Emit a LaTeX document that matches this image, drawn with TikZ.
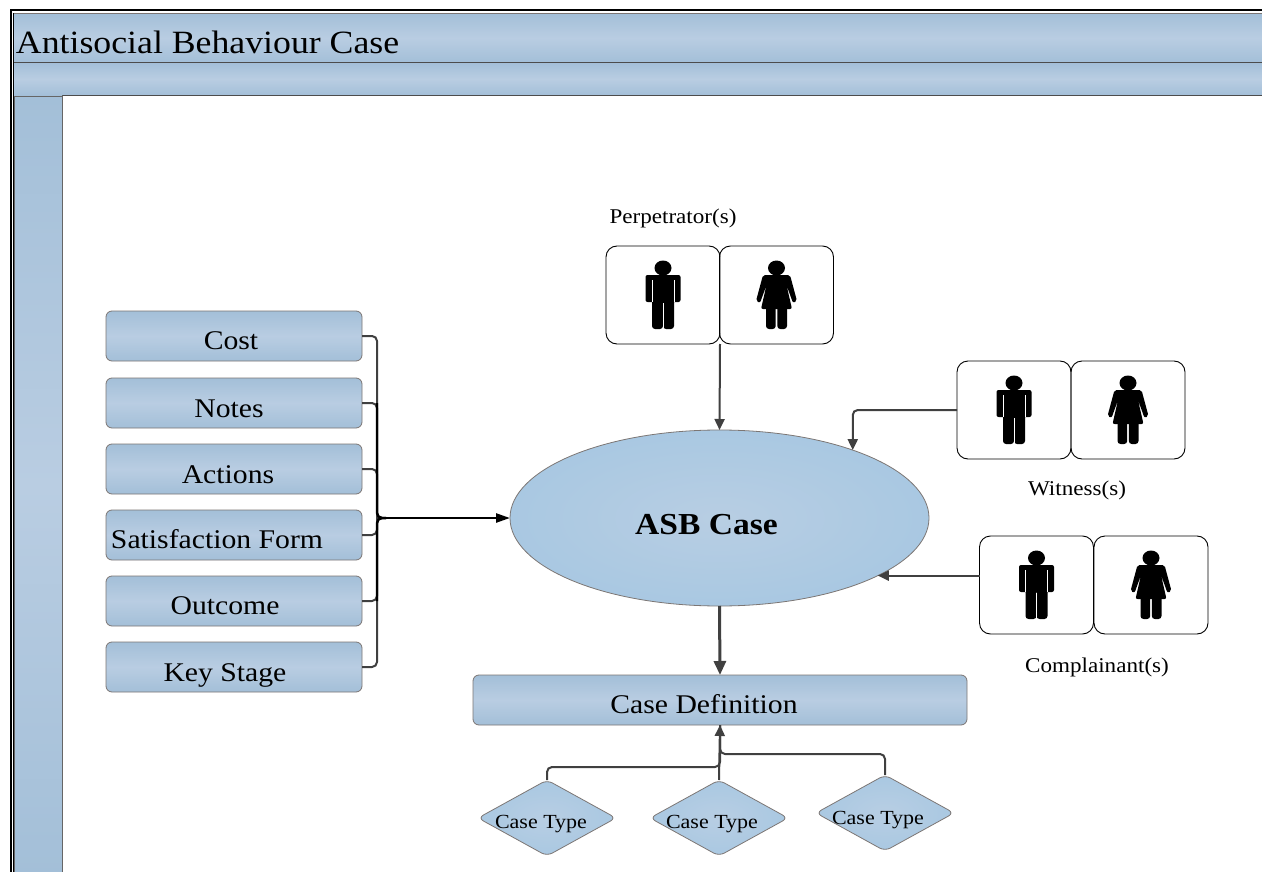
\documentclass[tikz,border=0pt]{standalone}
\usepackage{fontspec}
\setmainfont[FakeStretch = 1.1]{Liberation Serif}
\usetikzlibrary{
    arrows.meta,
    calc,
    shapes.geometric
}
\definecolor{bandDark}{HTML}{A3BFD8}
\definecolor{bandLight}{HTML}{B9CDE2}
\definecolor{blobDark}{HTML}{A9C8E2}
\definecolor{blobLight}{HTML}{B8CEE3}
\definecolor{edgeGrey}{HTML}{7C7674}
\definecolor{lineGrey}{HTML}{404040}
\tikzset{
    every picture/.style = {
        > = {Triangle[length = 11pt, width = 10pt]},
        x = 1pt,
        y = -1pt
    },
    every node/.style = {
        inner sep = 0pt,
        outer sep = 0pt,
        align = center
    },
    band/.style = {
        rectangle,
        draw = edgeGrey,
        line width = 0.8pt,
        top color = bandDark,
        bottom color = bandDark,
        middle color = bandLight
    },
    bluebox/.style = {
        band,
        rounded corners = 6pt,
        minimum width = 256pt,
        minimum height = 50pt
    },
    boxtext/.style = {
        font = \fontsize{27}{27}\selectfont
    },
    blob/.style = {
        draw = edgeGrey,
        line width = 0.8pt,
        inner color = blobLight,
        outer color = blobDark
    },
    casetype/.style = {
        diamond,
        blob,
        rounded corners = 6pt,
        minimum width = 138pt,
        minimum height = 76pt
    },
    smalltext/.style = {
        font = \fontsize{21}{21}\selectfont
    },
    typetext/.style = {
        font = \fontsize{20}{20}\selectfont
    },
    personbox/.style = {
        rectangle,
        draw = black,
        line width = 0.9pt,
        rounded corners = 11pt,
        minimum width = 114pt,
        minimum height = 98pt
    },
    link/.style = {
        draw = lineGrey,
        line width = 2pt,
        rounded corners = 5pt
    },
    busline/.style = {
        draw = black,
        line width = 2.4pt,
        rounded corners = 5pt
    },
    man/.pic = {
        \fill (0, -27) ellipse [x radius = 8.5, y radius = 7.5];
        \fill[rounded corners = 2pt] (-17.5, -20) rectangle (17.5, 7);
        \fill[rounded corners = 3pt] (-11, 0) rectangle (0, 34);
        \fill[rounded corners = 3pt] (0, 0) rectangle (11, 34);
        \draw[white, line width = 0.5pt] (-11, -15) -- (-11, 7);
        \draw[white, line width = 0.5pt] (11, -15) -- (11, 7);
        \draw[white, line width = 0.5pt] (0, 8) -- (0, 34);
    },
    woman/.pic = {
        \fill (0, -27) ellipse [x radius = 8.5, y radius = 7.5];
        \fill[rounded corners = 2pt] (-13.5, -20) -- (13.5, -20) -- (20.5, 6)
            -- (16.5, 8) -- (10, -10) -- (15.5, 14) -- (-15.5, 14)
            -- (-10, -10) -- (-16.5, 8) -- (-20.5, 6) -- cycle;
        \fill[rounded corners = 3pt] (-10.5, 10) rectangle (-0.8, 34);
        \fill[rounded corners = 3pt] (0.8, 10) rectangle (10.5, 34);
    }
}

\begin{document}
\begin{tikzpicture}
    \useasboundingbox (0, 0) rectangle (1262, 872);
    \fill[white] (0, 0) rectangle (1262, 872);

    % window frame
    \node[band, minimum width = 1250pt, minimum height = 49pt] (titlebar) at (638, 38) {};
    \node[band, minimum width = 1250pt, minimum height = 33pt, draw = black!70] (menubar) at (638, 79) {};
    \node[band, draw = black!60, minimum width = 48pt, minimum height = 780pt] (sidebar) at (38, 486) {};
    \node[anchor = base west, font = \fontsize{32.5}{33}\selectfont] (title) at (16, 54) {Antisocial Behaviour Case};
    \draw[black, line width = 2pt] (1262, 10) -- (11, 10) -- (11, 872);
    \draw[black, line width = 0.8pt] (13.5, 872) -- (13.5, 13);

    % left hand boxes
    \node[bluebox, label = {[boxtext, xshift = -3pt, yshift = -5pt]center:Cost}] (cost) at (234, 336) {};
    \node[bluebox, label = {[boxtext, xshift = -5pt, yshift = -6pt]center:Notes}] (notes) at (234, 403) {};
    \node[bluebox, label = {[boxtext, xshift = -6pt, yshift = -6pt]center:Actions}] (actions) at (234, 469) {};
    \node[bluebox, label = {[boxtext, xshift = -17pt, yshift = -4pt]center:Satisfaction Form}] (satisfaction) at (234, 535) {};
    \node[bluebox, label = {[boxtext, xshift = -9pt, yshift = -5pt]center:Outcome}] (outcome) at (234, 601) {};
    \node[bluebox, label = {[boxtext, xshift = -9pt, yshift = -8pt]center:Key Stage}] (keystage) at (234, 667) {};

    % centre
    \node[ellipse, blob, minimum width = 419pt, minimum height = 176pt,
        label = {[font = \fontsize{30.5}{31}\bfseries\selectfont, xshift = -13pt, yshift = -7pt]center:ASB Case}] (asb) at (719.5, 518) {};
    \node[bluebox, minimum width = 494pt, label = {[boxtext, xshift = -16pt, yshift = -4pt]center:Case Definition}] (casedef) at (720, 700) {};

    % case types
    \node[casetype, label = {[typetext, xshift = -6pt, yshift = -6pt]center:Case Type}] (typea) at (547, 818) {};
    \node[casetype, label = {[typetext, xshift = -7pt, yshift = -6pt]center:Case Type}] (typeb) at (719, 818) {};
    \node[casetype, label = {[typetext, xshift = -7pt, yshift = -7pt]center:Case Type}] (typec) at (885, 813) {};

    % people
    \node[personbox] (perpman) at (663, 295) {};
    \node[personbox] (perpwoman) at (776.5, 295) {};
    \node[personbox] (witman) at (1014, 410) {};
    \node[personbox] (witwoman) at (1128, 410) {};
    \node[personbox] (comman) at (1036.5, 585) {};
    \node[personbox] (comwoman) at (1151, 585) {};
    \pic at (perpman) {man};
    \pic at (perpwoman) {woman};
    \pic at (witman) {man};
    \pic at (witwoman) {woman};
    \pic at (comman) {man};
    \pic at (comwoman) {woman};
    \node[smalltext] (perplabel) at (673, 218) {Perpetrator(s)};
    \node[smalltext] (witlabel) at (1077, 490) {Witness(s)};
    \node[smalltext] (comlabel) at (1097, 667) {Complainant(s)};

    % connectors
    \coordinate (bus) at (377, 518);
    \coordinate (hub) at (386, 518);
    \coordinate (typebusa) at (720, 767);
    \coordinate (typebusb) at (720, 754);
    \draw[link] (cost.east) -| (bus) -- (hub);
    \draw[link] (notes.east) -| (bus);
    \draw[link] (actions.east) -| (bus);
    \draw[link] (satisfaction.east) -| (bus);
    \draw[link] (outcome.east) -| (bus);
    \draw[link] (keystage.east) -| (bus) -- (hub);
    \draw[busline] (notes.east -| bus) -- (bus) -- (hub);
    \draw[busline] (outcome.east -| bus) -- (bus) -- (hub);
    \draw[->, busline, > = {Triangle[length = 14pt, width = 9pt]}] (hub) -- (asb.west);
    \draw[->, link] (perpman.south east) -- (asb.north);
    \draw[->, link] (witman.west) -| (asb.27.5);
    \draw[<-, link] (asb.-20) -- (asb.-20 -| comman.west);
    \draw[->, link, line width = 3pt, > = {Triangle[length = 14pt, width = 12pt]}] (asb.south) -- (casedef.north);
    \draw[link] (typea.north) |- (typebusa) -- (casedef.south);
    \draw[link] (typec.north) |- (typebusb) -- (casedef.south);
    \draw[->, link] (typeb.north) -- (casedef.south);
\end{tikzpicture}
\end{document}
